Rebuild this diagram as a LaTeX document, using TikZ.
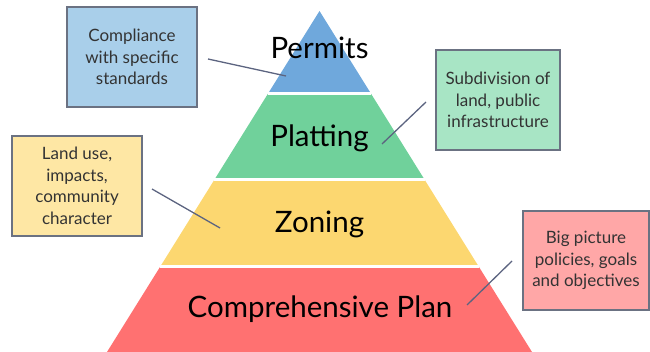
\documentclass[tikz,border=0pt]{standalone}
\usepackage{fontspec}
\setmainfont{Lato}
\usepackage{tikz}

\definecolor{PermitsBlue}{HTML}{6FA8DC}
\definecolor{PlattingGreen}{HTML}{70D19B}
\definecolor{ZoningYellow}{HTML}{FCD770}
\definecolor{PlanRed}{HTML}{FF7171}
\definecolor{BoxBlue}{HTML}{A9CFEA}
\definecolor{BoxGreen}{HTML}{A8E5C5}
\definecolor{BoxYellow}{HTML}{FEE7A4}
\definecolor{BoxRed}{HTML}{FFA7A7}
\definecolor{EdgeGray}{HTML}{6B7282}
\definecolor{LeadGray}{HTML}{5C6480}

\tikzset{
  tier/.style={font=\fontsize{29.5}{0}\selectfont, text=black, anchor=base},
  notebox/.style={draw=EdgeGray, line width=1.6pt, align=center, inner sep=0pt,
    text=black!80, font=\fontsize{17}{21.5}\selectfont},
  lead/.style={LeadGray, line width=1.3pt},
  gap/.style={white, line width=3pt}
}

\begin{document}
\begin{tikzpicture}[x=1pt, y=-1pt]
\useasboundingbox (0,0) rectangle (650,352);

\coordinate (top) at (319.5, 11);
\coordinate (L1) at (268.1, 93.5);
\coordinate (R1) at (370.9, 93.5);
\coordinate (L2) at (214.2, 180);
\coordinate (R2) at (424.8, 180);
\coordinate (L3) at (160.0, 267);
\coordinate (R3) at (479.0, 267);
\coordinate (L4) at (107.0, 352);
\coordinate (R4) at (532.0, 352);

\fill[PermitsBlue] (top) -- (L1) -- (R1) -- cycle;
\fill[PlattingGreen] (L1) -- (L2) -- (R2) -- (R1) -- cycle;
\fill[ZoningYellow] (L2) -- (L3) -- (R3) -- (R2) -- cycle;
\fill[PlanRed] (L3) -- (L4) -- (R4) -- (R3) -- cycle;
\draw[gap] (L1) -- (R1) (L2) -- (R2) (L3) -- (R3);

\node (permits) at (319.5, 59) [tier] {Permits};
\node (platting) at (319.5, 147) [tier] {Platting};
\node (zoning) at (319.5, 233) [tier] {Zoning};
\node (plan) at (320, 318) [tier] {Comprehensive Plan};

\node (compliance) at (132, 57) [notebox, fill=BoxBlue, minimum width=130, minimum height=100] {Compliance\\with specific\\standards};
\node (landuse) at (77, 186) [notebox, fill=BoxYellow, minimum width=130, minimum height=100] {Land use,\\impacts,\\community\\character};
\node (subdivision) at (498, 100) [notebox, fill=BoxGreen, minimum width=124, minimum height=100] {Subdivision of\\land, public\\infrastructure};
\node (bigpicture) at (586, 260.5) [notebox, fill=BoxRed, minimum width=126, minimum height=99] {Big picture\\policies, goals\\and objectives};

\coordinate (c1) at (208, 59);
\coordinate (c2) at (286, 76);
\coordinate (s1) at (426, 102);
\coordinate (s2) at (382, 144);
\coordinate (u1) at (152, 189);
\coordinate (u2) at (220, 228);
\coordinate (b1) at (512, 261);
\coordinate (b2) at (467, 305);

\draw[lead] (c1) -- (c2);
\draw[lead] (s1) -- (s2);
\draw[lead] (u1) -- (u2);
\draw[lead] (b1) -- (b2);

\end{tikzpicture}
\end{document}
